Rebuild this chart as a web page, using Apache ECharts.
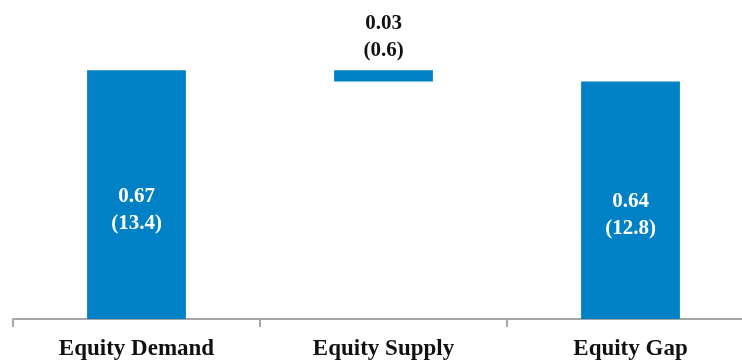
<!DOCTYPE html>
<html>
<head>
<meta charset="utf-8">
<script src="https://cdn.jsdelivr.net/npm/echarts@6/dist/echarts.min.js"></script>
<style>
  html, body { margin: 0; padding: 0; background: #fff; overflow: hidden; width: 742px; height: 361px; }
  #chart { width: 760px; height: 361px; }
</style>
</head>
<body>
<div id="chart"></div>
<script>
// categories and values (waterfall)
var categories = ['Equity Demand', 'Equity Supply', 'Equity Gap'];
var baseValues = [0, 0.64, 0];
var barValues = [0.67, 0.03, 0.64];
var bracketValues = ['13.4', '0.6', '12.8'];

var chart = echarts.init(document.getElementById('chart'));

var barColor = '#0081c6';
var fontFam = '"Liberation Serif", "DejaVu Serif", serif';

var barData = barValues.map(function (v, i) {
  var item = { value: v };
  if (i == 1) {
    item.label = {
      position: 'top',
      distance: 6,
      color: '#111',
      offset: [0, 0]
    };
  }
  return item;
});

// chart div is a bit wider than the window so the axis runs off the right edge
var option = {
  animation: false,
  grid: { left: 13, right: 6, top: 22, bottom: 42 },
  xAxis: {
    type: 'category',
    data: categories,
    axisLine: { lineStyle: { color: '#a6a6a6', width: 2 } },
    axisTick: { show: true, length: 8, lineStyle: { color: '#a6a6a6', width: 2 } },
    axisLabel: {
      margin: 19,
      color: '#111',
      fontFamily: fontFam,
      fontWeight: 'bold',
      fontSize: 23
    }
  },
  yAxis: {
    type: 'value',
    min: 0,
    max: 0.8,
    show: false,
    splitLine: { show: false }
  },
  series: [
    {
      type: 'bar',
      stack: 'w',
      data: baseValues,
      itemStyle: { color: 'transparent' },
      barWidth: '40%',
      silent: true
    },
    {
      type: 'bar',
      stack: 'w',
      data: barData,
      barWidth: '40%',
      itemStyle: { color: barColor },
      label: {
        show: true,
        position: 'inside',
        offset: [0, 15],
        color: '#fff',
        fontFamily: fontFam,
        fontWeight: 'bold',
        fontSize: 21,
        lineHeight: 27,
        formatter: function (p) {
          return p.value.toFixed(2) + '\n(' + bracketValues[p.dataIndex] + ')';
        }
      }
    }
  ]
};

chart.setOption(option);
</script>
</body>
</html>
